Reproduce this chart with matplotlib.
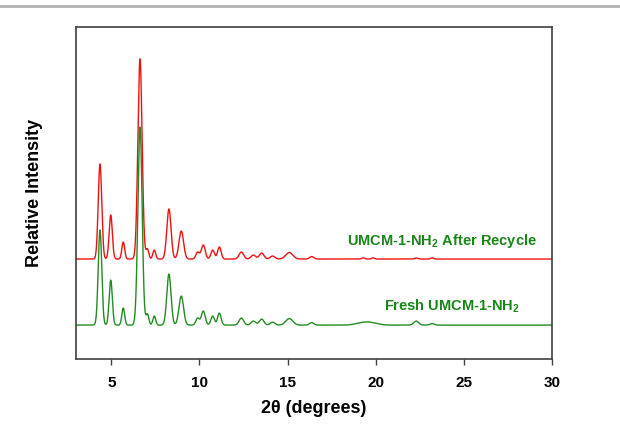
import numpy as np
import matplotlib
matplotlib.use("Agg")
import matplotlib.pyplot as plt
from matplotlib.lines import Line2D

plt.rcParams["mathtext.fontset"] = "custom"
plt.rcParams["mathtext.bf"] = "Liberation Sans:bold"
plt.rcParams["mathtext.rm"] = "Liberation Sans"

# peak list (2theta, heights above baseline, widths)
peak_pos = [4.36, 4.97, 5.68, 6.63, 7.05, 7.44, 8.27, 8.97, 9.90, 10.22,
            10.75, 11.13, 12.38, 13.06, 13.53, 14.15, 15.10, 16.37,
            19.30, 19.85, 22.30, 23.20]
recycle_h = [95, 44, 17, 200, 10, 9, 50, 28, 7, 14,
             9, 12, 7, 4, 6, 3, 6.5, 2.5,
             1.2, 1.2, 1.0, 1.2]
fresh_h = [95, 45, 17, 198, 11, 9, 51, 29, 7, 14,
           9, 12, 7, 4, 6, 3, 6.5, 2.5,
           2.5, 1.5, 4.0, 1.5]
recycle_w = [0.10, 0.09, 0.08, 0.12, 0.08, 0.08, 0.12, 0.13, 0.10, 0.11,
             0.10, 0.10, 0.13, 0.13, 0.13, 0.13, 0.20, 0.12,
             0.08, 0.08, 0.10, 0.08]
fresh_w = [0.10, 0.09, 0.08, 0.12, 0.08, 0.08, 0.12, 0.13, 0.10, 0.11,
           0.10, 0.10, 0.13, 0.13, 0.13, 0.13, 0.20, 0.12,
           0.40, 0.35, 0.14, 0.12]
recycle_offset = 100
fresh_offset = 34

two_theta = np.linspace(3, 30, 4000)


def pattern(pos, h, w, offset):
    y = np.full_like(two_theta, float(offset))
    for p, a, s in zip(pos, h, w):
        y += a * np.exp(-0.5 * ((two_theta - p) / s) ** 2)
    return y


fig = plt.figure(figsize=(6.2, 4.26), dpi=100)
ax = fig.add_axes([0.1226, 0.157, 0.7677, 0.780])

ax.plot(two_theta, pattern(peak_pos, recycle_h, recycle_w, recycle_offset),
        color="#f01010", lw=1.0)
ax.plot(two_theta, pattern(peak_pos, fresh_h, fresh_w, fresh_offset),
        color="#228b22", lw=1.0)

ax.text(23.76, 118, r"UMCM-1-NH$_\mathbf{2}$ After Recycle", color="#1a851a",
        fontsize=10.5, fontweight="bold", family="Liberation Sans",
        ha="center", va="center")
ax.text(24.3, 53, r"Fresh UMCM-1-NH$_\mathbf{2}$", color="#1a851a",
        fontsize=10.5, fontweight="bold", family="Liberation Sans",
        ha="center", va="center")

ax.set_xlim(3, 30)
ax.set_ylim(0, 332)
ax.set_xticks([5, 10, 15, 20, 25, 30])
ax.set_yticks([])
ax.tick_params(axis="x", direction="out", length=4, width=1.0,
               color="#404040", labelsize=11, pad=8)
for lab in ax.get_xticklabels():
    lab.set_fontweight("bold")
    lab.set_family("Liberation Sans")
for sp in ax.spines.values():
    sp.set_color("#404040")
    sp.set_linewidth(1.2)

ax.set_xlabel("2\u03b8 (degrees)", fontsize=13, fontweight="bold",
              family="Liberation Sans", labelpad=7)
ax.set_ylabel("Relative Intensity", fontsize=13, fontweight="bold",
              family="Liberation Sans", labelpad=24)

# grey rule along the top of the image
fig.add_artist(Line2D([0, 1], [0.986, 0.986], transform=fig.transFigure,
                      color="#b0b0b0", lw=2))

fig.savefig("out.png", dpi=100)
